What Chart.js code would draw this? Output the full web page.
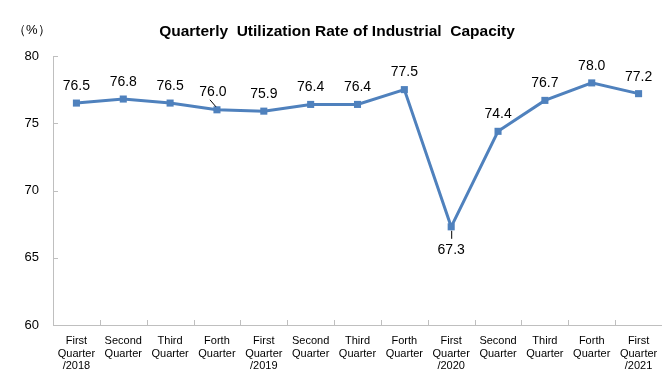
<!DOCTYPE html>
<html>
<head>
<meta charset="utf-8">
<script src="https://cdn.jsdelivr.net/npm/chart.js@4"></script>
<style>
  html, body { margin: 0; padding: 0; background: #fff; }
  #wrap { width: 662px; height: 388px; position: relative; }
</style>
</head>
<body>
<div id="wrap"><canvas id="chart" width="662" height="388"></canvas></div>
<script>
// Quarterly utilization rate of industrial capacity
const quarters = [
    ['First', 'Quarter', '/2018'], ['Second', 'Quarter'], ['Third', 'Quarter'], ['Forth', 'Quarter'],
    ['First', 'Quarter', '/2019'], ['Second', 'Quarter'], ['Third', 'Quarter'], ['Forth', 'Quarter'],
    ['First', 'Quarter', '/2020'], ['Second', 'Quarter'], ['Third', 'Quarter'], ['Forth', 'Quarter'],
    ['First', 'Quarter', '/2021']
];
const utilization = [76.5, 76.8, 76.5, 76.0, 75.9, 76.4, 76.4, 77.5, 67.3, 74.4, 76.7, 78.0, 77.2];
const yTicks = [60, 65, 70, 75, 80];

const chartTitle = 'Quarterly  Utilization Rate of Industrial  Capacity';
const unitText = '（%）';
const lineColor = '#4F81BD';
const axisColor = '#BFBFBF';

// Draw title, inward tick marks and value labels
const extras = {
    id: 'extras',
    afterDraw(chart) {
        const ctx = chart.ctx;
        const xs = chart.scales.x, ys = chart.scales.y;
        ctx.save();

        // title + unit
        ctx.fillStyle = '#000';
        ctx.font = 'bold 15.5px "Liberation Sans", Arial';
        ctx.textAlign = 'center';
        ctx.textBaseline = 'middle';
        ctx.fillText(chartTitle, 337, 32);
        ctx.font = '13px "Liberation Sans", Arial';
        ctx.textAlign = 'left';
        ctx.fillText(unitText, 13, 30);

        // tick marks pointing into the plot
        ctx.strokeStyle = axisColor;
        ctx.lineWidth = 1;
        ctx.beginPath();
        yTicks.forEach(v => {
            const y = Math.round(ys.getPixelForValue(v)) + 0.5;
            ctx.moveTo(xs.left, y);
            ctx.lineTo(xs.left + 5, y);
        });
        const n = quarters.length;
        for (let i = 1; i < n; i++) {
            const x = Math.round(xs.left + (xs.right - xs.left) * i / n) + 0.5;
            ctx.moveTo(x, ys.bottom);
            ctx.lineTo(x, ys.bottom - 5);
        }
        ctx.stroke();

        // value labels
        const meta = chart.getDatasetMeta(0);
        ctx.font = '14px "Liberation Sans", Arial';
        ctx.textAlign = 'center';
        ctx.textBaseline = 'middle';
        ctx.fillStyle = '#000';
        meta.data.forEach((pt, i) => {
            const txt = utilization[i].toFixed(1);
            if (i === 8) {
                ctx.strokeStyle = '#000';
                ctx.beginPath();
                ctx.moveTo(pt.x + 0.5, pt.y + 4);
                ctx.lineTo(pt.x + 0.5, pt.y + 12);
                ctx.stroke();
                ctx.fillText(txt, pt.x, pt.y + 23);
            } else if (i === 3) {
                ctx.strokeStyle = '#000';
                ctx.beginPath();
                ctx.moveTo(pt.x - 7, pt.y - 10);
                ctx.lineTo(pt.x - 1, pt.y - 3);
                ctx.stroke();
                ctx.fillText(txt, pt.x - 4, pt.y - 18);
            } else {
                ctx.fillText(txt, pt.x, pt.y - 17);
            }
        });
        ctx.restore();
    }
};

new Chart(document.getElementById('chart'), {
    type: 'line',
    data: {
        labels: quarters,
        datasets: [{
            data: utilization,
            borderColor: lineColor,
            backgroundColor: lineColor,
            borderWidth: 3,
            tension: 0,
            pointStyle: 'rect',
            pointRadius: 5,
            pointBorderWidth: 0,
            pointBackgroundColor: lineColor
        }]
    },
    options: {
        responsive: false,
        animation: false,
        devicePixelRatio: 1,
        layout: { autoPadding: false, padding: { top: 56, right: 0, left: 0, bottom: 0 } },
        plugins: { legend: { display: false }, title: { display: false }, tooltip: { enabled: false } },
        scales: {
            x: {
                offset: true,
                grid: { display: false, drawTicks: false },
                border: { color: axisColor, width: 1 },
                ticks: {
                    color: '#000',
                    padding: 9,
                    maxRotation: 0,
                    autoSkip: false,
                    font: { family: '"Liberation Sans", Arial', size: 11, lineHeight: 1.18 }
                },
                afterFit(scale) {
                    scale.height = 63;
                    scale.paddingLeft = 0;
                    scale.paddingRight = 0;
                }
            },
            y: {
                min: 60,
                max: 80,
                grid: { display: false, drawTicks: false },
                border: { color: axisColor, width: 1 },
                ticks: {
                    stepSize: 5,
                    color: '#000',
                    padding: 14,
                    font: { family: '"Liberation Sans", Arial', size: 13 }
                },
                afterFit(scale) { scale.width = 53; }
            }
        }
    },
    plugins: [extras]
});
</script>
</body>
</html>
